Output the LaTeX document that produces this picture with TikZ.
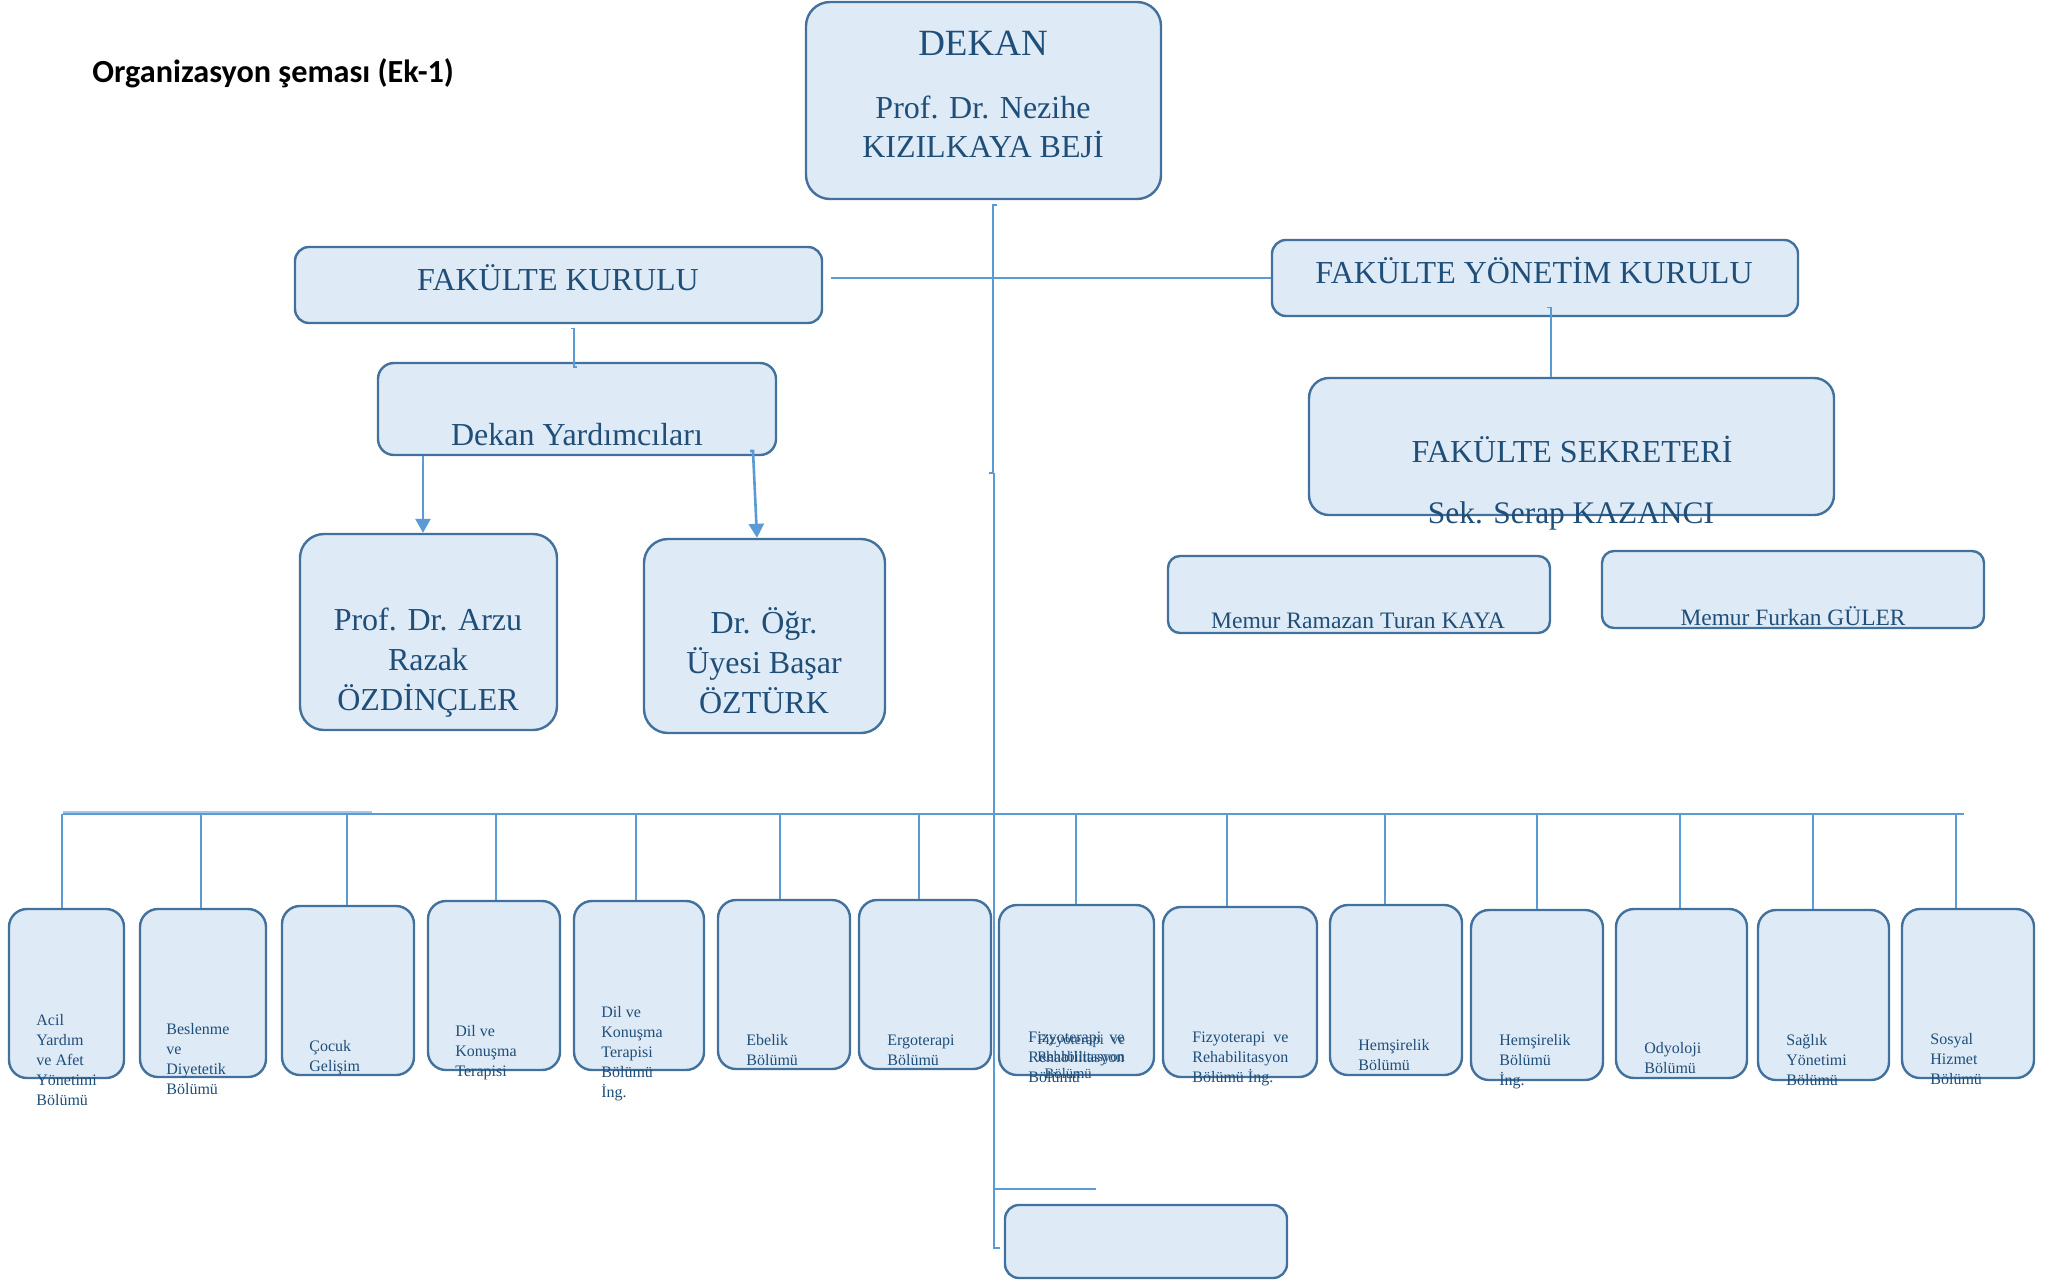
\documentclass[tikz,border=0pt]{standalone}
\usepackage{fontspec}
\setmainfont{Liberation Serif}
\newfontfamily\titlefont{Carlito}
\usetikzlibrary{arrows.meta,calc}
\definecolor{boxfill}{HTML}{DEEBF7}
\definecolor{boxline}{HTML}{41719C}
\definecolor{linecol}{HTML}{5B9BD5}
\definecolor{txtblue}{HTML}{1F4E79}
\newcommand\myleft[1]{\begin{tabular}[t]{@{}l@{}}#1\end{tabular}}
\newcommand\mycenter[1]{\begin{tabular}[t]{@{}c@{}}#1\end{tabular}}
\tikzset{
  box/.style={draw=boxline, fill=boxfill, line width=1.2pt, inner sep=0pt, rounded corners=#1},
  box/.default=9pt,
  conn/.style={draw=linecol, line width=0.7pt},
  arr/.style={draw=linecol, line width=1.3pt, -{Triangle[length=7pt,width=7.5pt]}},
  ttl/.style={anchor=base west, inner sep=0pt, font=\titlefont\bfseries\fontsize{16.1}{19}\selectfont},
  big/.style={anchor=base, inner sep=0pt, text=txtblue, font=\fontsize{16}{20}\selectfont},
  bt/.style={anchor=base west, inner sep=0pt, text=txtblue, font=\fontsize{8}{10}\selectfont}
}
\begin{document}
\begin{tikzpicture}[x=0.5pt,y=-0.5pt]
\path[fill=white] (0,0) rectangle (2056,1280);
\useasboundingbox (0,0) rectangle (2056,1280);

% ---------- boxes ----------
\node[box=12pt, minimum width=177.5pt, minimum height=98.5pt] (dekan) at (983.5,100.5) {};
\node[box=7pt, minimum width=263.5pt, minimum height=38pt] (fk) at (558.5,285) {};
\node[box=7pt, minimum width=263pt, minimum height=38pt] (fyk) at (1535,278) {};
\node[box=8pt, minimum width=199pt, minimum height=46pt] (dy) at (577,409) {};
\node[box=12pt, minimum width=128.5pt, minimum height=98pt] (arzu) at (428.5,632) {};
\node[box=12pt, minimum width=120.5pt, minimum height=97pt] (ogr) at (764.5,636) {};
\node[box=10pt, minimum width=262.5pt, minimum height=68.5pt] (fsek) at (1571.5,446.5) {};
\node[box=6pt, minimum width=191pt, minimum height=38.5pt] (m1) at (1359,594.5) {};
\node[box=6pt, minimum width=191pt, minimum height=38.5pt] (m2) at (1793,589.5) {};
\node[box=7pt, minimum width=141pt, minimum height=36.5pt] (bos) at (1146,1241.5) {};

\node[box, minimum width=57.5pt, minimum height=84.5pt] (b1) at (66.5,993.5) {};
\node[box, minimum width=63pt, minimum height=84pt] (b2) at (203,993) {};
\node[box, minimum width=66pt, minimum height=84.5pt] (b3) at (348,990.5) {};
\node[box, minimum width=66pt, minimum height=84.5pt] (b4) at (494,985.5) {};
\node[box, minimum width=65pt, minimum height=84.5pt] (b5) at (639,985.5) {};
\node[box, minimum width=66pt, minimum height=84.5pt] (b6) at (784,984.5) {};
\node[box, minimum width=66pt, minimum height=84.5pt] (b7) at (925,984.5) {};
\node[box, minimum width=77.5pt, minimum height=85pt] (b8) at (1076.5,990) {};
\node[box, minimum width=77pt, minimum height=85pt] (b9) at (1240,992) {};
\node[box, minimum width=66pt, minimum height=85pt] (b10) at (1396,990) {};
\node[box, minimum width=66pt, minimum height=85pt] (b11) at (1537,995) {};
\node[box, minimum width=65.5pt, minimum height=84.5pt] (b12) at (1681.5,993.5) {};
\node[box, minimum width=65.5pt, minimum height=85pt] (b13) at (1823.5,995) {};
\node[box, minimum width=66pt, minimum height=84.5pt] (b14) at (1968,993.5) {};

% ---------- connectors ----------
\coordinate (v0) at (993,205);
\coordinate (v1) at (993,473);
\coordinate (v2) at (994,1248);
\coordinate (h1) at (1096,1189);
\draw[conn] ($(v0)+(4,0)$) -- (v0) -- (v1) -- ++(-4,0);
\draw[conn] ($(v1)+(1,0)$) -- (v2) -- ++(6,0);
\draw[conn] (v2 |- h1) -- (h1);

\coordinate (fkr) at ($(fk.east)+(8,0)$);
\draw[conn] (fkr |- fyk.west) -- (fyk.west);

\coordinate (k) at (574,0);
\draw[conn] ($(k |- fk.south)+(-3,4)$) -- ($(k |- fk.south)+(0,4)$) -- ($(k |- dy.north)+(0,5)$) -- ++(3,0);

\coordinate (s) at (1551,0);
\draw[conn] ($(s |- fyk.south)+(-4,-10)$) -- ($(s |- fyk.south)+(0,-10)$) -- (s |- fsek.north);

\coordinate (a1) at (423,0);
\draw[arr] (a1 |- dy.south) -- (a1 |- arzu.north);
\coordinate (a2s) at (753,451);
\coordinate (a2e) at (757,0);
\draw[arr] ($(a2s)+(-3,0)$) -- (a2s) -- (a2e |- ogr.north);

\coordinate (busL) at (63,814);
\coordinate (busR) at (1964,814);
\coordinate (busM) at (372,812);
\draw[conn, line width=1.1pt] (busL) -- (busR);
\draw[linecol!55, line width=1pt] (busL |- busM) -- (busM);
\foreach \x/\b in {62/b1, 201/b2, 347/b3, 496/b4, 636/b5, 780/b6, 919/b7, 1076/b8, 1227/b9, 1385/b10, 1537/b11, 1680/b12, 1813/b13, 1956/b14}{
  \coordinate (dd) at (\x,814);
  \draw[conn] (dd) -- (dd |- \b.north);
}

% ---------- texts ----------
\node[ttl] (title) at (92,82) {Organizasyon şeması (Ek-1)};
\node[big, font=\fontsize{18.5}{22}\selectfont] (dekanT) at (983,55) {DEKAN};
\node[big, font=\fontsize{16}{19.5}\selectfont] (dekanN) at (983,118) {\mycenter{Prof. Dr. Nezihe\\KIZILKAYA BEJİ}};
\node[big] (fkT) at (558,290) {FAKÜLTE KURULU};
\node[big] (fykT) at (1534,283) {FAKÜLTE YÖNETİM KURULU};
\node[big] (dyT) at (577,445) {Dekan Yardımcıları};
\node[big] (arzuT) at (428,630) {\mycenter{Prof. Dr. Arzu\\Razak\\ÖZDİNÇLER}};
\node[big] (ogrT) at (764,633) {\mycenter{Dr. Öğr.\\Üyesi Başar\\ÖZTÜRK}};
\node[big, font=\fontsize{16}{19}\selectfont] (fsekT) at (1572,462) {FAKÜLTE SEKRETERİ};
\node[big, font=\fontsize{15.7}{19}\selectfont] (fsekN) at (1571,523) {Sek. Serap KAZANCI};
\node[big, font=\fontsize{11.8}{14}\selectfont] (m1T) at (1358,628) {Memur Ramazan Turan KAYA};
\node[big, font=\fontsize{11.7}{14}\selectfont] (m2T) at (1793,625) {Memur Furkan GÜLER};

\node[bt] (t1) at (36,1025) {\myleft{Acil\\Yardım\\ve Afet\\Yönetimi\\Bölümü}};
\node[bt] (t2) at (166,1034) {\myleft{Beslenme\\ve\\Diyetetik\\Bölümü}};
\node[bt] (t3) at (309,1051) {\myleft{Çocuk\\Gelişim}};
\node[bt] (t4) at (455,1036) {\myleft{Dil ve\\Konuşma\\Terapisi}};
\node[bt] (t5) at (601,1017) {\myleft{Dil ve\\Konuşma\\Terapisi\\Bölümü\\İng.}};
\node[bt] (t6) at (746,1045) {\myleft{Ebelik\\Bölümü}};
\node[bt] (t7) at (887,1045) {\myleft{Ergoterapi\\Bölümü}};
\node[bt] (t8a) at (1028,1042) {\myleft{Fizyoterapi\ \ ve\\Rehabilitasyon\\Bölümü}};
\node[bt, font=\fontsize{7.3}{8.6}\selectfont] (t8b) at (1037,1044) {\myleft{Fizyoterapi\ \ ve\\ Rehabilitasyon\\ \ \ Bölümü}};
\node[bt] (t9) at (1192,1042) {\myleft{Fizyoterapi\ \ ve\\Rehabilitasyon\\Bölümü İng.}};
\node[bt] (t10) at (1358,1050) {\myleft{Hemşirelik\\Bölümü}};
\node[bt] (t11) at (1499,1045) {\myleft{Hemşirelik\\Bölümü\\İng.}};
\node[bt] (t12) at (1644,1053) {\myleft{Odyoloji\\Bölümü}};
\node[bt] (t13) at (1786,1045) {\myleft{Sağlık\\Yönetimi\\Bölümü}};
\node[bt] (t14) at (1930,1044) {\myleft{Sosyal\\Hizmet\\Bölümü}};
\end{tikzpicture}
\end{document}
